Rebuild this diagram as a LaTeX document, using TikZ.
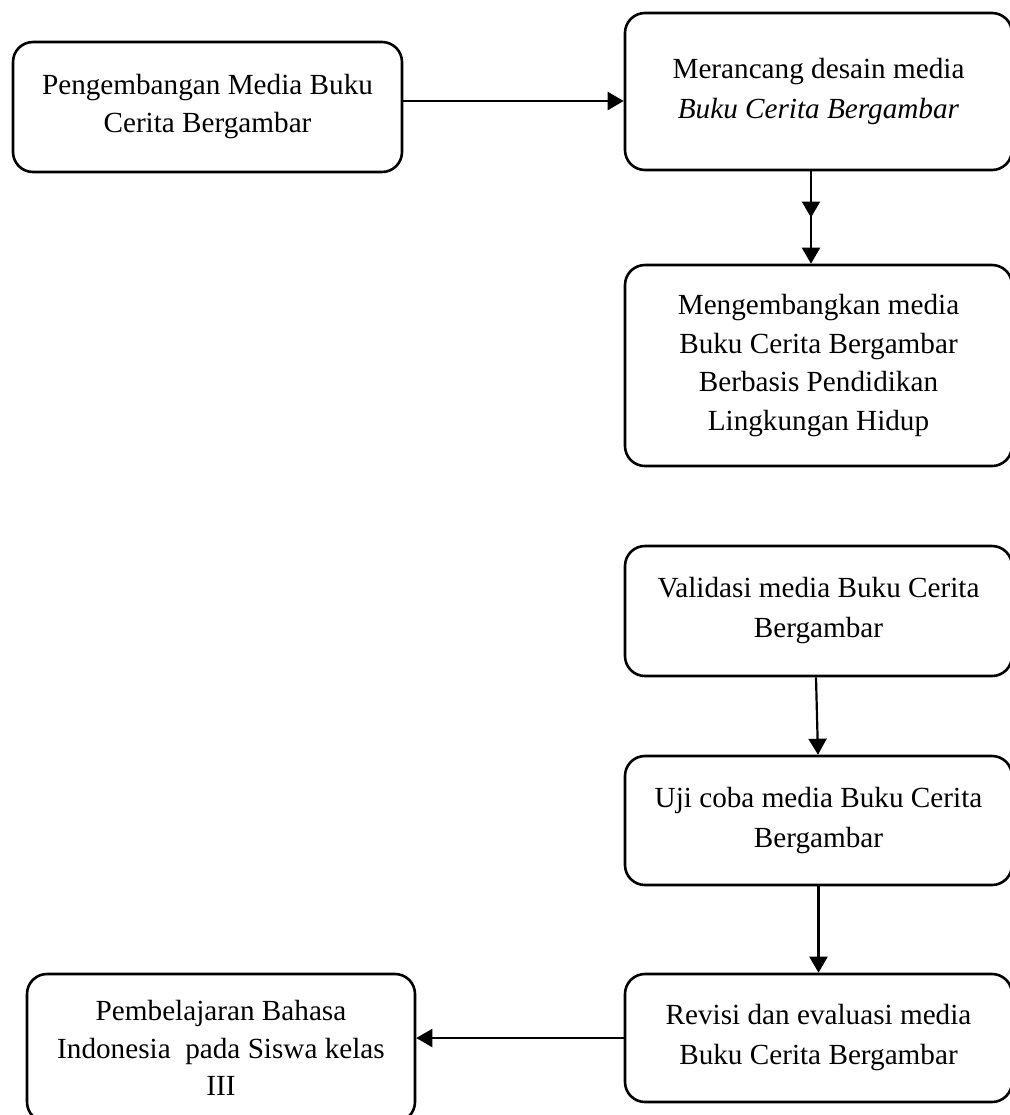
\documentclass[tikz,border=0pt]{standalone}
\usepackage{fontspec}
\setmainfont{Liberation Serif}
\usetikzlibrary{arrows.meta,decorations.markings}
\tikzset{
  box/.style={draw,line width=1.3pt,rounded corners=10pt,align=center,inner sep=0pt,minimum width=193.5pt},
  arr/.style={line width=1.1pt,-{Triangle[length=8pt,width=9pt]}},
  midarr/.style={postaction={decorate},decoration={markings,mark=at position 0.5 with {\arrow{Triangle[length=8pt,width=9pt]}}}}
}
\begin{document}
\begin{tikzpicture}[x=0.5pt,y=-0.5pt]
			%\draw[help lines] (0,0) grid (1009,1115);
			\useasboundingbox (0,0) rectangle (1009,1115);
			\node [box,minimum width=194.5pt,minimum height=65pt,font=\fontsize{14.6}{19}\selectfont] (peng) at (207.5,107) {Pengembangan Media Buku\\Cerita Bergambar};
			\node [box,minimum height=78.5pt,font=\fontsize{14.6}{19.7}\selectfont] (desain) at (818.5,91.5) {Merancang desain media\\\textit{Buku Cerita Bergambar}};
			\node [box,minimum height=100.5pt,font=\fontsize{14.6}{19.2}\selectfont] (kembang) at (818.5,365.5) {Mengembangkan media\\Buku Cerita Bergambar\\Berbasis Pendidikan\\Lingkungan Hidup};
			\node [box,minimum height=65pt,font=\fontsize{14.6}{20}\selectfont] (validasi) at (818.5,611) {Validasi media Buku Cerita\\Bergambar};
			\node [box,minimum height=64.5pt,font=\fontsize{14.6}{20}\selectfont] (ujicoba) at (818.5,820.5) {Uji coba media Buku Cerita\\Bergambar};
			\node [box,minimum height=64pt,font=\fontsize{14.6}{20}\selectfont] (revisi) at (818.5,1038) {Revisi dan evaluasi media\\Buku Cerita Bergambar};
			\node [box,minimum width=194pt,minimum height=74pt,font=\fontsize{14.6}{18.8}\selectfont] (belajar) at (221,1048) {Pembelajaran Bahasa\\Indonesia~ pada Siswa kelas\\III};
			\draw [arr] ([yshift=3pt]peng.east) to ([yshift=3pt]peng.east -| desain.west);
			\draw [arr,midarr] ([xshift=-3.75pt]desain.south) to ([xshift=-3.75pt]kembang.north);
			\draw [arr] ([xshift=-1.25pt]validasi.south) to ([xshift=-0.25pt]ujicoba.north);
			\draw [arr] (ujicoba.south) to (revisi.north);
			\draw [arr] (revisi.west) to (revisi.west -| belajar.east);
\end{tikzpicture}
\end{document}
